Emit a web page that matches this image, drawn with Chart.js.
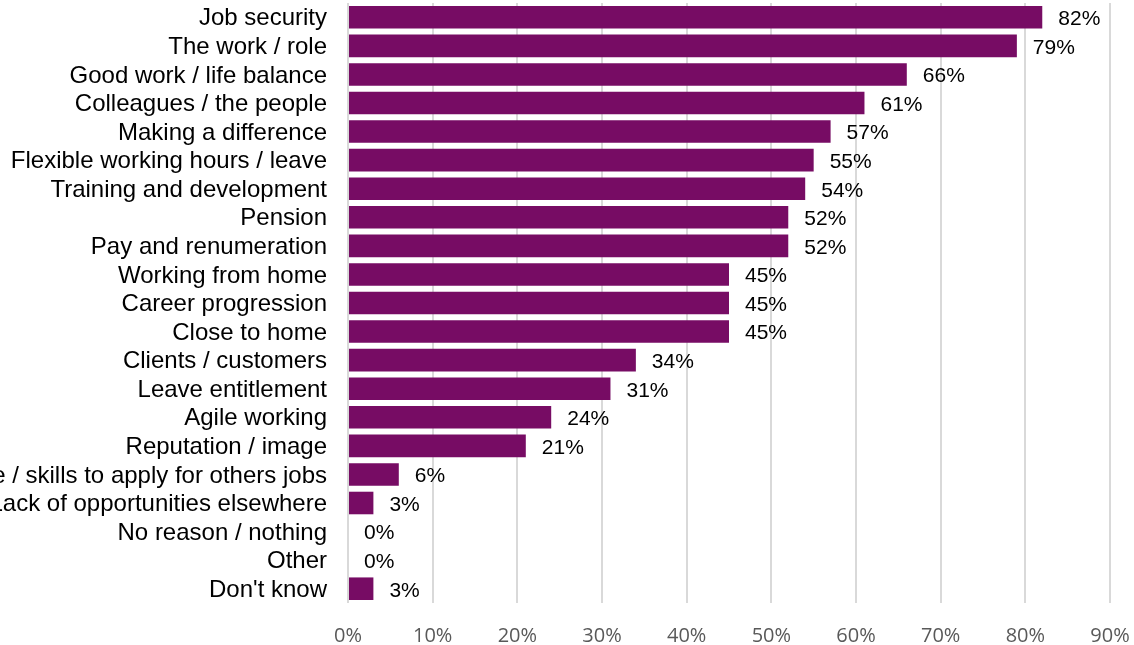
<!DOCTYPE html>
<html>
<head>
<meta charset="utf-8">
<script src="https://cdn.jsdelivr.net/npm/chart.js@4.4.1/dist/chart.umd.min.js"></script>
<style>
html,body{margin:0;padding:0;background:#fff;}
#wrap{width:1134px;height:645px;position:relative;}
</style>
</head>
<body>
<div id="wrap"><canvas id="c" width="1134" height="645"></canvas></div>
<script>
const categories = [
  "Job security",
  "The work / role",
  "Good work / life balance",
  "Colleagues / the people",
  "Making a difference",
  "Flexible working hours / leave",
  "Training and development",
  "Pension",
  "Pay and renumeration",
  "Working from home",
  "Career progression",
  "Close to home",
  "Clients / customers",
  "Leave entitlement",
  "Agile working",
  "Reputation / image",
  "Lack of experience / skills to apply for others jobs",
  "Lack of opportunities elsewhere",
  "No reason / nothing",
  "Other",
  "Don't know"
];
const values = [82, 79, 66, 61, 57, 55, 54, 52, 52, 45, 45, 45, 34, 31, 24, 21, 6, 3, 0, 0, 3];
const xTicks = [0, 10, 20, 30, 40, 50, 60, 70, 80, 90];

const valueLabels = {
  id: 'valueLabels',
  afterDatasetsDraw(chart) {
    const ctx = chart.ctx;
    const meta = chart.getDatasetMeta(0);
    ctx.save();
    ctx.font = '21px "Liberation Sans", Arial, sans-serif';
    ctx.fillStyle = '#000';
    ctx.textAlign = 'left';
    ctx.textBaseline = 'middle';
    meta.data.forEach((bar, i) => {
      ctx.fillText(values[i] + '%', bar.x + 16, bar.y + 2);
    });
    ctx.restore();
  }
};

new Chart(document.getElementById('c'), {
  type: 'bar',
  data: {
    labels: categories,
    datasets: [{
      data: values,
      backgroundColor: '#770C64',
      borderWidth: 0,
      categoryPercentage: 1,
      barPercentage: 0.79
    }]
  },
  options: {
    indexAxis: 'y',
    responsive: false,
    animation: false,
    layout: { padding: { top: 3, right: 24, left: 0, bottom: 0 } },
    plugins: { legend: { display: false }, tooltip: { enabled: false } },
    scales: {
      x: {
        min: 0, max: 90,
        afterBuildTicks(scale) { scale.ticks = xTicks.map(v => ({ value: v })); },
        afterFit(scale) { scale.height = 42; scale.paddingLeft = 0; scale.paddingRight = 0; },
        grid: { color: '#d9d9d9', lineWidth: 2, drawTicks: false },
        border: { display: false },
        ticks: {
          padding: 21,
          color: '#595959',
          font: { family: '"Open Sans", sans-serif', size: 20 },
          callback: v => v + '%'
        }
      },
      y: {
        afterFit(scale) { scale.width = 348; scale.paddingTop = 0; scale.paddingBottom = 0; },
        grid: { display: false, drawTicks: false },
        border: { display: false },
        ticks: {
          padding: 21,
          labelOffset: 1.5,
          color: '#000',
          autoSkip: false,
          font: { family: '"Liberation Sans", Arial, sans-serif', size: 24 }
        }
      }
    }
  },
  plugins: [valueLabels]
});
</script>
</body>
</html>
